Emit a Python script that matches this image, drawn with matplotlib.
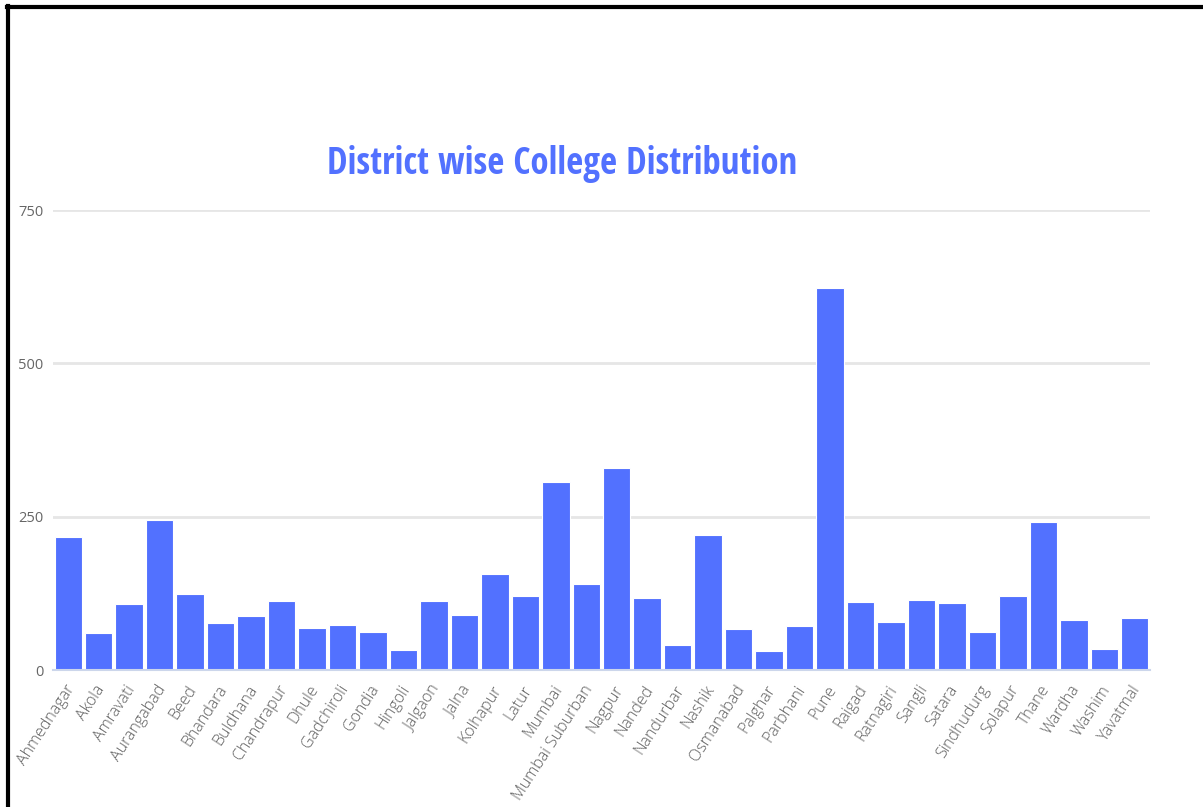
import matplotlib
matplotlib.use("Agg")
import matplotlib.pyplot as plt
from matplotlib.transforms import ScaledTranslation

districts = ["Ahmednagar", "Akola", "Amravati", "Aurangabad", "Beed", "Bhandara", "Buldhana",
             "Chandrapur", "Dhule", "Gadchiroli", "Gondia", "Hingoli", "Jalgaon", "Jalna",
             "Kolhapur", "Latur", "Mumbai", "Mumbai Suburban", "Nagpur", "Nanded", "Nandurbar",
             "Nashik", "Osmanabad", "Palghar", "Parbhani", "Pune", "Raigad", "Ratnagiri",
             "Sangli", "Satara", "Sindhudurg", "Solapur", "Thane", "Wardha", "Washim", "Yavatmal"]
colleges = [217, 61, 108, 245, 124, 76, 88, 113, 69, 73, 62, 32, 112, 89, 157, 120, 307, 141,
            329, 117, 40, 220, 67, 31, 72, 623, 111, 79, 114, 109, 62, 121, 241, 82, 35, 84]
y_ticks = [0, 250, 500, 750]
title = "District wise College Distribution"

BAR = "#5271ff"
fig = plt.figure(figsize=(12.03, 8.07), dpi=100)
ax = fig.add_axes([53/1203, 137/807, 1097/1203, 460/807])
x = list(range(len(districts)))
ax.bar(x, colleges, width=0.9, color=BAR, edgecolor="white", linewidth=0.8, zorder=3)
ax.set_xlim(-0.5, len(districts) - 0.5)
ax.set_ylim(0, 750)
ax.set_yticks(y_ticks)
ax.set_yticklabels([str(v) for v in y_ticks])
ax.grid(axis="y", color="#e6e6e6", linewidth=2, zorder=0)
for s in ["top", "right", "left"]:
    ax.spines[s].set_visible(False)
ax.spines["bottom"].set_color("#ccd6eb")
ax.spines["bottom"].set_linewidth(1.5)
ax.spines["bottom"].set_zorder(4)
ax.tick_params(axis="y", length=0, pad=7, labelcolor="#666666", labelsize=10.5)
ax.tick_params(axis="x", length=0, pad=12, labelcolor="#5f5f5f", labelsize=11.5)
for lab in ax.get_yticklabels():
    lab.set_family("Open Sans")
ax.set_xticks(x)
ax.set_xticklabels(districts, rotation=57, ha="right", rotation_mode="anchor",
                   family="Open Sans", fontweight="light", va="center")
off = ScaledTranslation(3/100, 0, fig.dpi_scale_trans)
for lab in ax.get_xticklabels():
    lab.set_transform(lab.get_transform() + off)
fig.text(562/1203, 1 - 174/807, title, ha="center", va="baseline",
         fontsize=26.5, fontweight="bold", color=BAR, family="Open Sans Condensed")
fig.add_artist(plt.Line2D([7/1203, 1], [1 - 7/807, 1 - 7/807], color="black", linewidth=3))
fig.add_artist(plt.Line2D([7.5/1203, 7.5/1203], [0, 1 - 6/807], color="black", linewidth=3))
fig.savefig("out.png", dpi=100)
